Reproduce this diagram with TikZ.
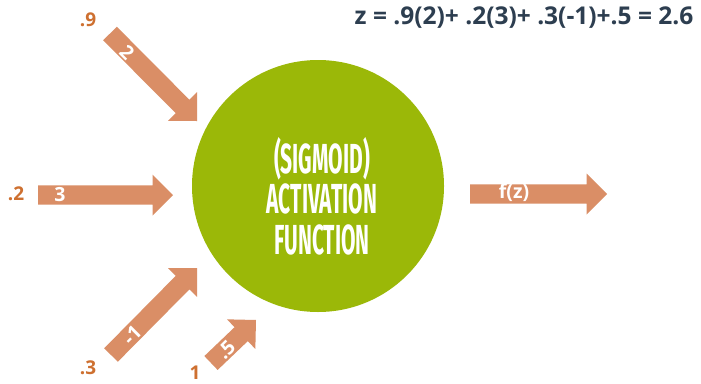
\documentclass[tikz,border=0pt]{standalone}
\usepackage{fontspec}
\setmainfont{Open Sans}
\newfontfamily\condfont[FakeStretch=0.5]{Fira Sans}
\usetikzlibrary{calc}
\definecolor{arrowfill}{RGB}{218,142,102}
\definecolor{lblorange}{RGB}{206,112,48}
\definecolor{circgreen}{RGB}{155,184,8}
\definecolor{eqcolor}{RGB}{45,62,80}
\newcommand\fatarrow[3]{%
  \coordinate (#1-tail) at (#2);
  \coordinate (#1-tip) at (#3);
  \coordinate (#1-hb) at ($(#1-tip)!20.5pt!(#1-tail)$);
  \fill[arrowfill] ($(#1-tail)!9.6pt!90:(#1-tip)$) -- ($(#1-hb)!9.6pt!90:(#1-tip)$)
    -- ($(#1-hb)!20.5pt!90:(#1-tip)$) -- (#1-tip)
    -- ($(#1-hb)!20.5pt!-90:(#1-tip)$) -- ($(#1-hb)!9.6pt!-90:(#1-tip)$)
    -- ($(#1-tail)!9.6pt!-90:(#1-tip)$) -- cycle;}
\tikzset{
  inlbl/.style={text=white, font=\bfseries\fontsize{19.5}{21}\selectfont, inner sep=0pt},
  outlbl/.style={text=lblorange, font=\bfseries\fontsize{19}{21}\selectfont, inner sep=0pt},
}
\begin{document}
\begin{tikzpicture}[x=1pt,y=-1pt]
\useasboundingbox (0,0) rectangle (701,383);
\fill[white] (0,0) rectangle (701,383);
% circle
\node[circle, fill=circgreen, minimum size=252pt, inner sep=0pt] (neuron) at (318,186) {};
\node[text=white, align=center, font=\condfont\bfseries\fontsize{42}{40.5}\selectfont, inner sep=0pt] (ntext) at (322,196) {(SIGMOID)\\ACTIVATION\\FUNCTION};
% arrows
\fatarrow{a1}{110,33.5}{197,121}
\fatarrow{a2}{38,195}{173,195}
\fatarrow{a3}{111,355}{197,268}
\fatarrow{a4}{211,363}{256,320}
\fatarrow{a5}{470,194}{607,194}
% arrow texts
\node[inlbl, rotate=-45] (w1) at (127,52) {2};
\node[inlbl] (w2) at (60,195) {3};
\node[inlbl, rotate=45] (w3) at (132,335) {-1};
\node[inlbl, rotate=45] (w4) at (226,350) {.5};
\node[inlbl] (fz) at (514,193) {f(z)};
% input values
\node[outlbl] (x1) at (88,20) {.9};
\node[outlbl] (x2) at (16,194) {.2};
\node[outlbl] (x3) at (88,368) {.3};
\node[outlbl] (x4) at (195,373) {1};
% equation
\node[text=eqcolor, font=\bfseries\fontsize{24.5}{26}\selectfont, inner sep=0pt] (eq) at (524,18) {z = .9(2)+ .2(3)+ .3(-1)+.5 = 2.6};
\end{tikzpicture}
\end{document}
